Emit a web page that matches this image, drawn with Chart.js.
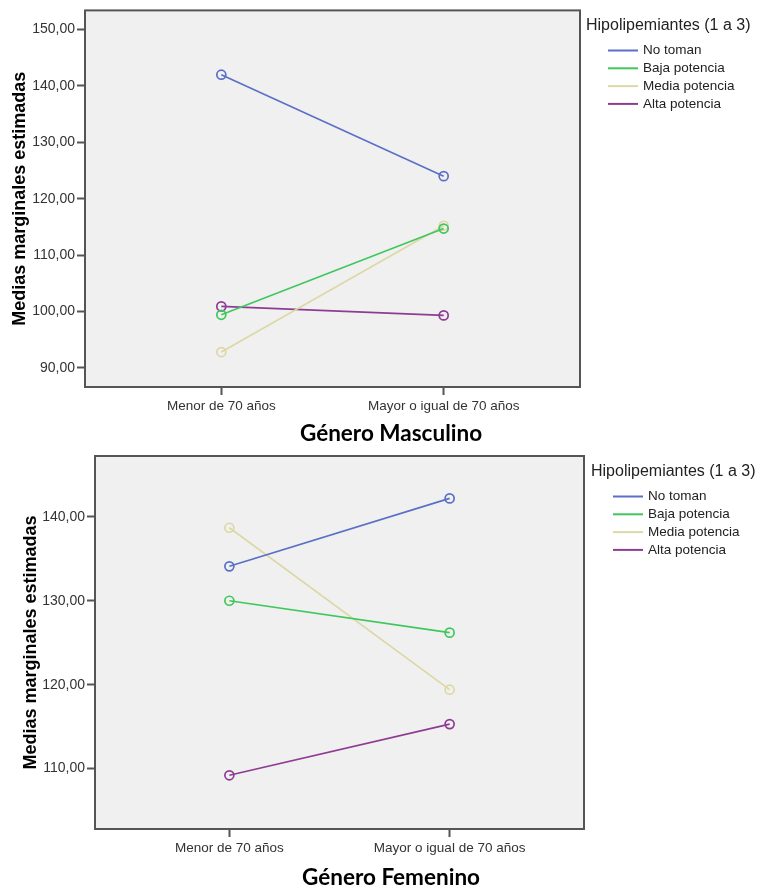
<!DOCTYPE html>
<html>
<head>
<meta charset="utf-8">
<script src="https://cdn.jsdelivr.net/npm/chart.js@4/dist/chart.umd.min.js"></script>
<style>
  body { margin: 0; background: #fff; }
  .wrap { position: relative; width: 757px; height: 888px; }
  canvas { position: absolute; left: 0; }
  #chartMasc { top: 0; }
  #chartFem { top: 440px; }
  .caption {
    position: absolute; left: 0; width: 782px; text-align: center;
    font-family: Lato, "Open Sans", sans-serif; font-weight: bold; font-size: 22.5px;
    color: #000; line-height: 26px;
  }
</style>
</head>
<body>
<div class="wrap">
  <canvas id="chartMasc" width="757" height="420"></canvas>
  <div class="caption" style="top:420px">Género Masculino</div>
  <canvas id="chartFem" width="757" height="420"></canvas>
  <div class="caption" style="top:864px">Género Femenino</div>
</div>
<script>
// edad (eje x) y grupos de hipolipemiantes
const ageGroups = ['Menor de 70 años', 'Mayor o igual de 70 años']
const drugGroups = ['No toman', 'Baja potencia', 'Media potencia', 'Alta potencia']
const drugColors = ['#5a6fc6', '#40c75c', '#dcd8a6', '#8e3c93']

// medias marginales estimadas, hombres
const mascNoToman = [142.0, 124.0]
const mascBaja = [99.4, 114.7]
const mascMedia = [92.8, 115.2]
const mascAlta = [100.9, 99.3]
const mascTicks = [90, 100, 110, 120, 130, 140, 150]

// medias marginales estimadas, mujeres
const femNoToman = [134.1, 142.2]
const femBaja = [130.0, 126.2]
const femMedia = [138.7, 119.4]
const femAlta = [109.2, 115.3]
const femTicks = [110, 120, 130, 140]

const legendTitle = 'Hipolipemiantes (1 a 3)'
const yTitle = 'Medias marginales estimadas'
const sans = '"Liberation Sans", Arial, sans-serif'

// gray panel + dark frame around the plot area, SPSS style
const plotFrame = {
  id: 'plotFrame',
  beforeDraw(chart) {
    const { ctx, chartArea: a } = chart
    ctx.save()
    ctx.fillStyle = '#f0f0f0'
    ctx.fillRect(a.left, a.top, a.right - a.left, a.bottom - a.top)
    ctx.restore()
  },
  afterDraw(chart) {
    const { ctx, chartArea: a } = chart
    ctx.save()
    ctx.strokeStyle = '#555'
    ctx.lineWidth = 2
    ctx.strokeRect(a.left, a.top, a.right - a.left, a.bottom - a.top)
    ctx.restore()
  }
}

// legend on the right: title, then a short line + label per group
const sideLegend = {
  id: 'sideLegend',
  afterDraw(chart, args, opts) {
    const ctx = chart.ctx
    ctx.save()
    ctx.textBaseline = 'middle'
    ctx.fillStyle = '#222'
    ctx.font = '16px ' + sans
    ctx.fillText(legendTitle, opts.x, opts.y)
    ctx.font = '13.5px ' + sans
    chart.data.datasets.forEach((ds, i) => {
      const y = opts.y + 24.5 + i * 17.8
      ctx.strokeStyle = ds.borderColor
      ctx.lineWidth = 2
      ctx.beginPath()
      ctx.moveTo(opts.x + 22, y)
      ctx.lineTo(opts.x + 52, y)
      ctx.stroke()
      ctx.fillStyle = '#222'
      ctx.fillText(ds.label, opts.x + 57, y)
    })
    ctx.restore()
  }
}

function fmt(v) {
  return v.toFixed(2).replace('.', ',')
}

function makeChart(id, series, ticks, yMin, yMax, box) {
  const datasets = series.map((vals, i) => ({
    label: drugGroups[i],
    data: vals.map((v, k) => ({ x: k, y: v })),
    borderColor: drugColors[i],
    backgroundColor: 'rgba(0,0,0,0)',
    borderWidth: 1.6,
    pointRadius: 4.5,
    pointBorderWidth: 1.7,
    pointBackgroundColor: 'rgba(0,0,0,0)',
    pointBorderColor: drugColors[i],
    tension: 0
  }))

  return new Chart(document.getElementById(id).getContext('2d'), {
    type: 'line',
    data: { datasets },
    plugins: [plotFrame, sideLegend],
    options: {
      responsive: false,
      animation: false,
      layout: { padding: { top: box.top, right: 757 - box.right, bottom: 0, left: 0 } },
      plugins: {
        legend: { display: false },
        tooltip: { enabled: false },
        sideLegend: { x: box.legendX, y: box.legendY }
      },
      scales: {
        x: {
          type: 'linear',
          min: -box.xPad,
          max: 1 + box.xPad,
          afterBuildTicks: s => { s.ticks = ageGroups.map((_, k) => ({ value: k })) },
          afterFit: s => { s.height = 420 - box.bottom },
          ticks: {
            callback: v => ageGroups[v],
            color: '#333',
            font: { family: sans, size: 13.5 },
            padding: 3,
            maxRotation: 0
          },
          grid: { drawOnChartArea: false, tickLength: 8, tickWidth: 2, tickColor: '#555' },
          border: { display: false }
        },
        y: {
          min: yMin,
          max: yMax,
          afterBuildTicks: s => { s.ticks = ticks.map(v => ({ value: v })) },
          afterFit: s => { s.width = box.left },
          ticks: {
            callback: v => fmt(v),
            color: '#333',
            font: { family: sans, size: 14 },
            padding: 2
          },
          grid: { drawOnChartArea: false, tickLength: 8, tickWidth: 2, tickColor: '#555' },
          border: { display: false },
          title: {
            display: true,
            text: yTitle,
            color: '#000',
            font: { family: sans, size: 18, weight: 'bold' },
            padding: { top: box.titlePad, bottom: 0 }
          }
        }
      }
    }
  })
}

makeChart('chartMasc', [mascNoToman, mascBaja, mascMedia, mascAlta], mascTicks, 86.6, 153.4,
  { top: 9, bottom: 387, left: 85, right: 580, xPad: 0.613, titlePad: 9, legendX: 586, legendY: 26 })

makeChart('chartFem', [femNoToman, femBaja, femMedia, femAlta], femTicks, 102.8, 147.25,
  { top: 16, bottom: 389, left: 95, right: 584, xPad: 0.61, titlePad: 20, legendX: 591, legendY: 32 })
</script>
</body>
</html>
